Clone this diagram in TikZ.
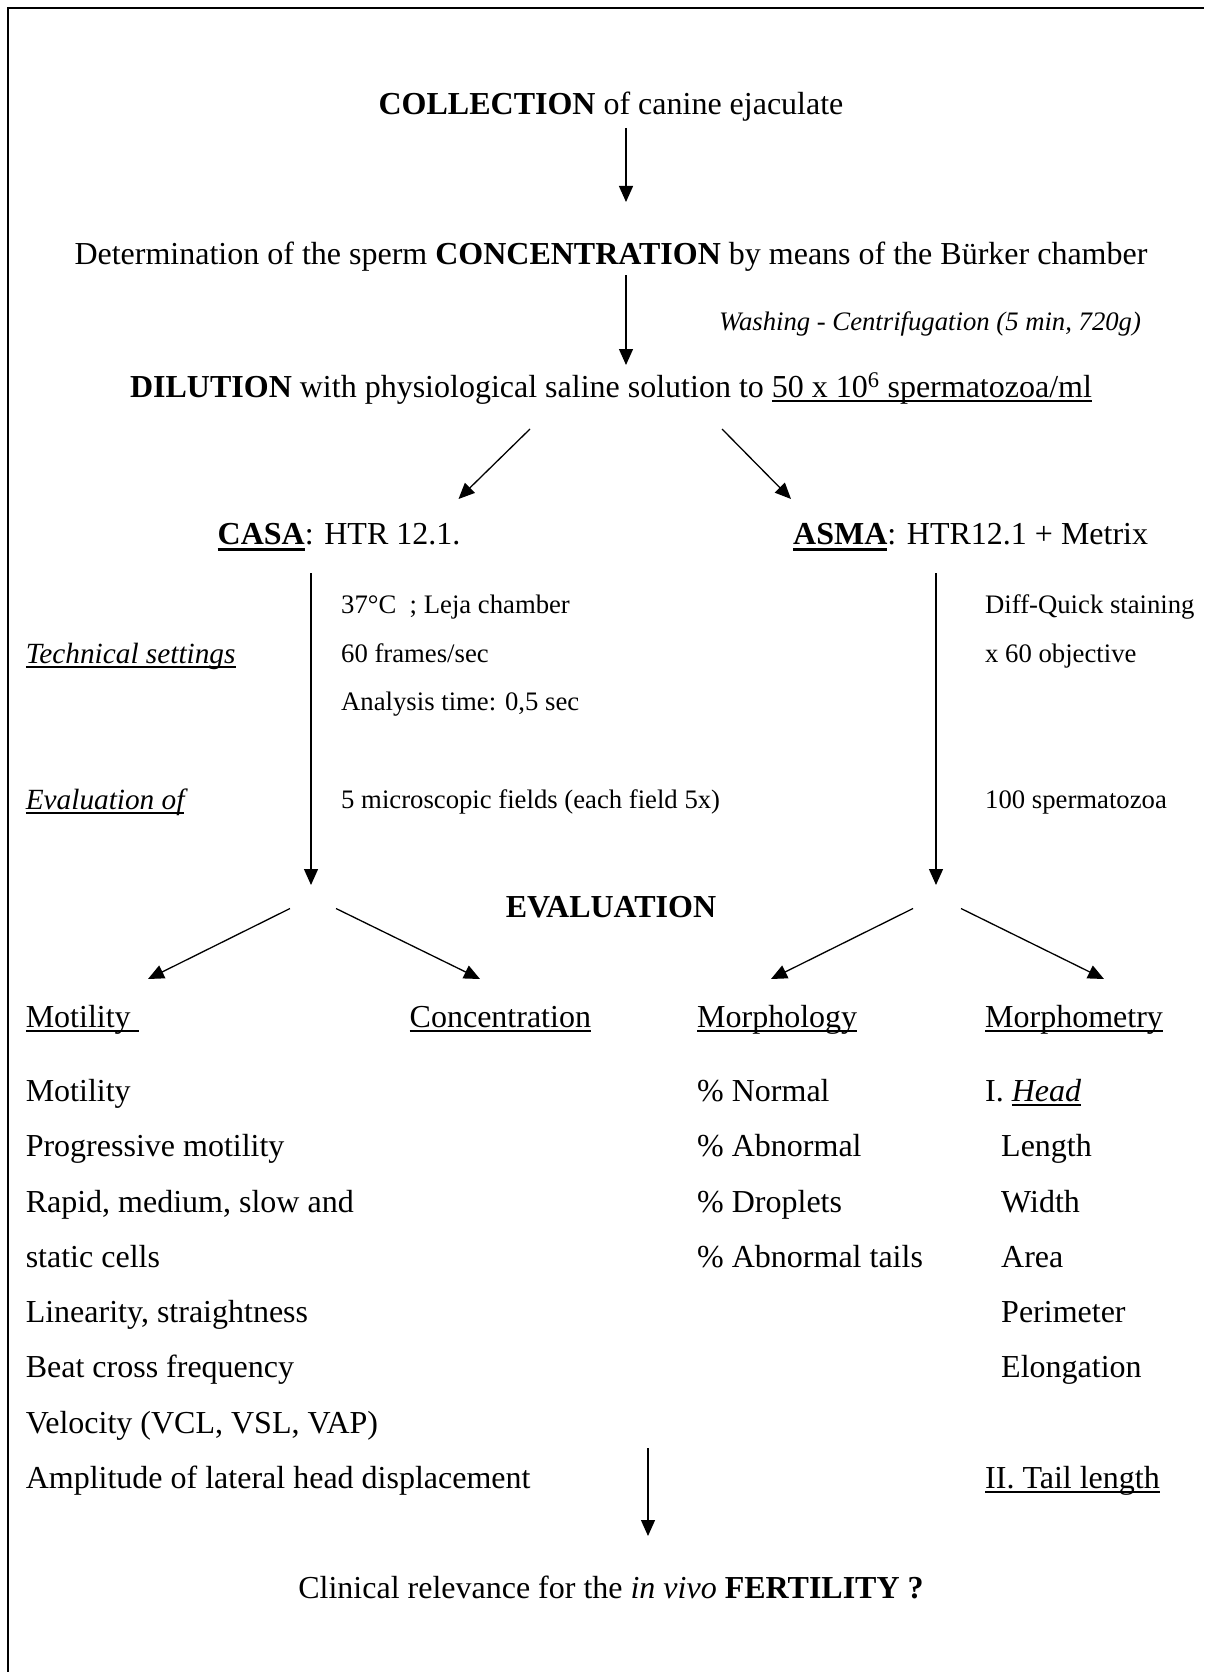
\documentclass[tikz,border=0pt]{standalone}
\usepackage{fontspec}
\setmainfont{Liberation Serif}
\usepackage{tikz}
\usetikzlibrary{arrows.meta}

\newcommand{\undl}[1]{{\setbox0\hbox{#1}\rlap{\rule[-5pt]{\wd0}{1.6pt}}\box0}}
\newcommand{\undlbold}[1]{{\setbox0\hbox{#1}\rlap{\rule[-6.5pt]{\wd0}{3pt}}\box0}}

\tikzset{
  main/.style={font=\fontsize{32}{38}\selectfont, inner sep=0pt},
  mid/.style={font=\fontsize{29.3}{35}\selectfont, inner sep=0pt},
  small/.style={font=\fontsize{26.7}{32}\selectfont, inner sep=0pt},
  flow/.style={-{Triangle[width=14pt,length=16pt]}, line width=1.3pt},
}

\begin{document}
\begin{tikzpicture}[x=1pt, y=-1pt]
  \useasboundingbox (0,0) rectangle (1204,1672);
  % frame (left and top edges)
  \draw[line width=2.5pt] (8,1672) -- (8,8) -- (1204,8);

  % preparation steps
  \node[main, anchor=base] (collect) at (611,115) {\textbf{COLLECTION} of canine ejaculate};
  \node[main, anchor=base] (conc) at (611,264) {Determination of the sperm \textbf{CONCENTRATION} by means of the Bürker chamber};
  \node[small, anchor=base west] (wash) at (719,330) {\itshape Washing - Centrifugation (5 min, 720g)};
  \node[main, anchor=base] (dilut) at (611,397) {\textbf{DILUTION} with physiological saline solution to \undl{50 x 10\textsuperscript{6} spermatozoa/ml}};

  % the two systems
  \node[main, anchor=base west] (casa) at (217.5,544) {\undlbold{\textbf{CASA}}: HTR 12.1.};
  \node[main, anchor=base west] (asma) at (793,544) {\undlbold{\textbf{ASMA}}: HTR12.1 + Metrix};

  % settings rows
  \node[mid, anchor=base west] (tech) at (25.6,663) {\undl{\itshape Technical settings}};
  \node[mid, anchor=base west] (evof) at (25.6,809) {\undl{\itshape Evaluation of}};
  \node[small, anchor=base west] (casa1) at (341,613) {37°C\ \ ; Leja chamber};
  \node[small, anchor=base west] (casa2) at (341,662) {60 frames/sec};
  \node[small, anchor=base west] (casa3) at (341,710) {Analysis time: 0,5 sec};
  \node[small, anchor=base west] (casa4) at (341,808) {5 microscopic fields (each field 5x)};
  \node[small, anchor=base west] (asma1) at (985,613) {Diff-Quick staining};
  \node[small, anchor=base west] (asma2) at (985,662) {x 60 objective};
  \node[small, anchor=base west] (asma4) at (985,808) {100 spermatozoa};

  \node[main, anchor=base] (eval) at (611,917) {\textbf{EVALUATION}};

  % categories
  \node[main, anchor=base west] (motil) at (25.6,1027) {\undl{Motility\ }};
  \node[main, anchor=base west] (concn) at (409.5,1027) {\undl{Concentration}};
  \node[main, anchor=base west] (morph) at (697,1027) {\undl{Morphology}};
  \node[main, anchor=base west] (mmetr) at (985,1027) {\undl{Morphometry}};

  % motility parameters
  \node[main, anchor=base west] (m1) at (25.6,1101) {Motility};
  \node[main, anchor=base west] (m2) at (25.6,1156.5) {Progressive motility};
  \node[main, anchor=base west] (m3) at (25.6,1212) {Rapid, medium, slow and};
  \node[main, anchor=base west] (m4) at (25.6,1267.5) {static cells};
  \node[main, anchor=base west] (m5) at (25.6,1322) {Linearity, straightness};
  \node[main, anchor=base west] (m6) at (25.6,1377.5) {Beat cross frequency};
  \node[main, anchor=base west] (m7) at (25.6,1433) {Velocity (VCL, VSL, VAP)};
  \node[main, anchor=base west] (m8) at (25.6,1488) {Amplitude of lateral head displacement};

  % morphology parameters
  \node[main, anchor=base west] (p1) at (697,1101) {\% Normal};
  \node[main, anchor=base west] (p2) at (697,1156.5) {\% Abnormal};
  \node[main, anchor=base west] (p3) at (697,1212) {\% Droplets};
  \node[main, anchor=base west] (p4) at (697,1267.5) {\% Abnormal tails};

  % morphometry parameters
  \node[main, anchor=base west] (q0) at (985,1101) {I. \undl{\itshape Head}};
  \node[main, anchor=base west] (q1) at (1001,1156.5) {Length};
  \node[main, anchor=base west] (q2) at (1001,1212) {Width};
  \node[main, anchor=base west] (q3) at (1001,1267.5) {Area};
  \node[main, anchor=base west] (q4) at (1001,1322) {Perimeter};
  \node[main, anchor=base west] (q5) at (1001,1377.5) {Elongation};
  \node[main, anchor=base west] (q6) at (985,1488) {\undl{II. Tail length}};

  \node[main, anchor=base] (fert) at (611,1598) {Clinical relevance for the \textit{in vivo} \textbf{FERTILITY ?}};

  % arrow ends
  \coordinate (a1) at (626,128);   \coordinate (b1) at (626,202);
  \coordinate (a2) at (626,275);   \coordinate (b2) at (626,365);
  \coordinate (a3) at (530,429);   \coordinate (b3) at (458.5,499);
  \coordinate (a4) at (722,429);   \coordinate (b4) at (791,499);
  \coordinate (a5) at (311,573);   \coordinate (b5) at (311,885);
  \coordinate (a6) at (936,573);   \coordinate (b6) at (936,885);
  \coordinate (a7) at (290,908.5); \coordinate (b7) at (148,979);
  \coordinate (a8) at (336,908.5); \coordinate (b8) at (480,979);
  \coordinate (a9) at (913,908.5); \coordinate (b9) at (771,979);
  \coordinate (a10) at (961,908.5); \coordinate (b10) at (1104,979);
  \coordinate (a11) at (648,1448); \coordinate (b11) at (648,1536);

  % arrows
  \draw[flow] (a1) -- (b1);
  \draw[flow] (a2) -- (b2);
  \draw[flow] (a3) -- (b3);
  \draw[flow] (a4) -- (b4);
  \draw[flow] (a5) -- (b5);
  \draw[flow] (a6) -- (b6);
  \draw[flow] (a7) -- (b7);
  \draw[flow] (a8) -- (b8);
  \draw[flow] (a9) -- (b9);
  \draw[flow] (a10) -- (b10);
  \draw[flow] (a11) -- (b11);
\end{tikzpicture}
\end{document}
